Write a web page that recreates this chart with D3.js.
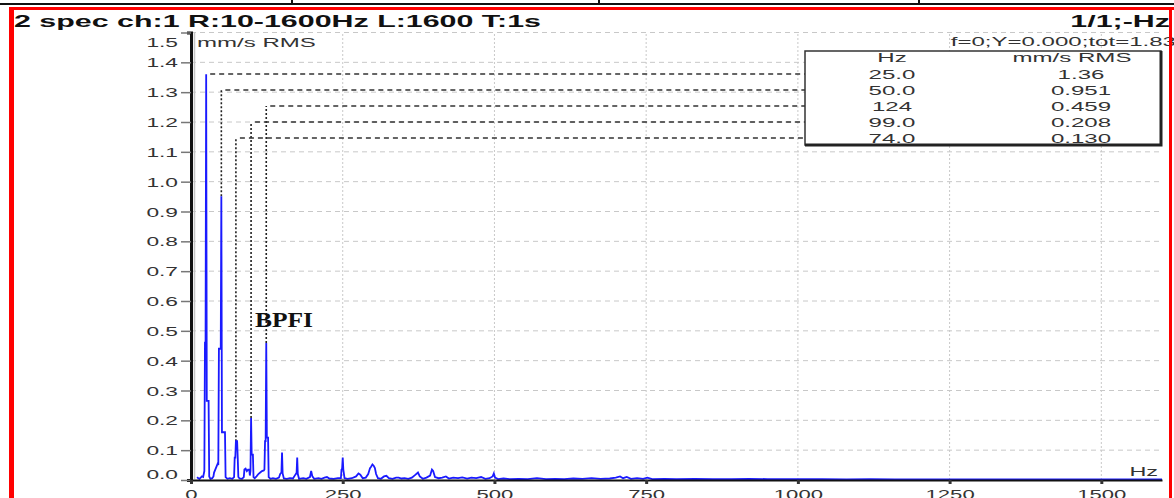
<!DOCTYPE html>
<meta charset="utf-8">
<head>
    <script src="https://d3js.org/d3.v7.min.js"></script>
    <style>
        body { margin: 0; background: #fff; }
        text { font-family: Arial, "Liberation Sans", sans-serif; }
    </style>
</head>
<body>
<div id="my_dataviz"></div>

<script>

    // spectrum: [Hz, mm/s RMS]
    const spectrum = [
        [10,0.010],[12,0.006],[14,0.004],[16,0.008],[18,0.012],[20,0.010],[21,0.020],[22,0.030],
        [23,0.460],[24,0.460],[25,1.360],[26,0.265],[29,0.265],[30,0.012],[32,0.004],[35,0.006],
        [37,0.012],[38,0.025],[40,0.035],[42,0.045],[44,0.055],[45,0.050],[46,0.440],[49,0.440],
        [50,0.951],[51,0.160],[56,0.160],[57,0.010],[60,0.004],[64,0.006],[68,0.004],[71,0.010],
        [72,0.075],[73,0.075],[74,0.130],[76,0.130],[77,0.075],[78,0.010],[80,0.005],[84,0.004],
        [87,0.010],[88,0.035],[90,0.038],[92,0.030],[94,0.035],[96,0.035],[97,0.015],[98,0.030],
        [99,0.208],[100,0.085],[102,0.085],[103,0.010],[105,0.006],[108,0.012],[111,0.020],[114,0.025],
        [117,0.030],[120,0.032],[121,0.035],[122,0.130],[123,0.130],[124,0.459],[125,0.142],[127,0.142],
        [128,0.010],[131,0.004],[135,0.006],[140,0.004],[145,0.008],[147,0.020],[149,0.025],[150,0.092],
        [151,0.022],[153,0.005],[158,0.004],[163,0.006],[168,0.005],[172,0.018],[174,0.024],[175,0.075],
        [176,0.020],[178,0.004],[185,0.006],[190,0.004],[196,0.010],[198,0.030],[200,0.012],[203,0.004],
        [210,0.006],[215,0.004],[220,0.008],[224,0.010],[228,0.005],[235,0.004],[242,0.006],[247,0.006],
        [248,0.035],[249,0.038],[250,0.075],[251,0.035],[253,0.006],[258,0.004],[265,0.006],[272,0.012],
        [276,0.022],[279,0.018],[283,0.006],[288,0.008],[292,0.020],[295,0.040],[297,0.045],[299,0.052],
        [301,0.048],[303,0.040],[305,0.020],[308,0.006],[313,0.004],[318,0.012],[322,0.014],[326,0.006],
        [332,0.004],[338,0.008],[342,0.008],[347,0.005],[352,0.006],[358,0.004],[364,0.008],[370,0.018],
        [374,0.025],[377,0.012],[382,0.004],[388,0.008],[394,0.015],[397,0.035],[399,0.030],[402,0.010],
        [408,0.006],[414,0.008],[420,0.012],[425,0.005],[432,0.008],[440,0.006],[447,0.009],[455,0.005],
        [462,0.008],[470,0.006],[478,0.010],[485,0.004],[492,0.006],[497,0.012],[499,0.022],[501,0.008],
        [506,0.003],[515,0.005],[525,0.003],[540,0.004],[555,0.003],[570,0.006],[585,0.003],[600,0.004],
        [615,0.003],[630,0.005],[645,0.004],[660,0.006],[675,0.004],[690,0.005],[700,0.008],[707,0.012],
        [712,0.006],[718,0.010],[725,0.004],[735,0.006],[745,0.004],[752,0.008],[760,0.003],[780,0.004],
        [800,0.003],[830,0.004],[860,0.003],[890,0.003],[920,0.004],[950,0.003],[980,0.003],[1010,0.003],
        [1040,0.003],[1080,0.002],[1120,0.003],[1160,0.002],[1200,0.002],[1250,0.002],[1300,0.002],
        [1350,0.002],[1400,0.002],[1450,0.002],[1500,0.002],[1550,0.002],[1600,0.002]
    ];

    // peak table (sorted by amplitude, as in the instrument)
    const peakHz = [25.0, 50.0, 124, 99.0, 74.0];
    const peakHzText = ["25.0", "50.0", "124", "99.0", "74.0"];
    const peakAmp = [1.36, 0.951, 0.459, 0.208, 0.130];
    const peakAmpText = ["1.36", "0.951", "0.459", "0.208", "0.130"];

    const xTicks = [0, 250, 500, 750, 1000, 1250, 1500];
    const yTicks = [0.0, 0.1, 0.2, 0.3, 0.4, 0.5, 0.6, 0.7, 0.8, 0.9, 1.0, 1.1, 1.2, 1.3, 1.4, 1.5];

    const title = "2 spec ch:1 R:10-1600Hz L:1600 T:1s";
    const titleRight = "1/1;-Hz";
    const infoText = "f=0;Y=0.000;tot=1.83";

    // the screenshot is stretched sideways, so all text is widened
    const SX = 1.8;

    const svg = d3.select("#my_dataviz").append("svg")
        .attr("width", 1174)
        .attr("height", 498)

    const x = d3.scaleLinear()
        .domain([0, 1600])
        .range([191, 1162])

    const y = d3.scaleLinear()
        .domain([0, 1.5])
        .range([480, 32.5])

    function wideText(g, str, tx, ty, size, anchor, sx, weight) {
        return g.append("text")
            .attr("transform", `translate(${tx},${ty}) scale(${sx},1)`)
            .attr("text-anchor", anchor)
            .attr("font-size", size)
            .attr("font-weight", weight || "normal")
            .attr("fill", "#333")
            .text(str)
    }

    // page line above the frame
    svg.append("line")
        .attr("x1", 0).attr("x2", 1174).attr("y1", 4).attr("y2", 4)
        .attr("stroke", "#111").attr("stroke-width", 2)
    ;[292, 599, 919].forEach(px => {
        svg.append("line")
            .attr("x1", px).attr("x2", px).attr("y1", 0).attr("y2", 4)
            .attr("stroke", "#111").attr("stroke-width", 2)
    })

    // grid
    svg.append("g")
        .selectAll("line")
        .data(yTicks.filter(d => d > 0))
        .enter()
        .append("line")
        .attr("x1", x(0)).attr("x2", x(1600))
        .attr("y1", d => y(d)).attr("y2", d => y(d))
        .attr("stroke", "#c8c8c8")
        .attr("stroke-dasharray", "5,4")

    svg.append("g")
        .selectAll("line")
        .data(xTicks.filter(d => d > 0))
        .enter()
        .append("line")
        .attr("x1", d => x(d)).attr("x2", d => x(d))
        .attr("y1", y(0)).attr("y2", y(1.5))
        .attr("stroke", "#c8c8c8")
        .attr("stroke-dasharray", "2,2")

    // leader lines from peaks to the table rows
    const rowY = i => 74 + 16 * i
    const tableLeft = 805

    peakHz.forEach((f, i) => {
        const top = rowY(i)
        if (y(peakAmp[i]) - top > 2) {
            svg.append("line")
                .attr("x1", x(f)).attr("x2", x(f))
                .attr("y1", y(peakAmp[i])).attr("y2", top)
                .attr("stroke", "#222")
                .attr("stroke-width", 1.6)
                .attr("stroke-dasharray", "2,2")
        }
        svg.append("line")
            .attr("x1", x(f) + 4).attr("x2", tableLeft)
            .attr("y1", top).attr("y2", top)
            .attr("stroke", "#333")
            .attr("stroke-width", 1.4)
            .attr("stroke-dasharray", "5,4")
    })

    // spectrum
    svg.append("path")
        .datum(spectrum)
        .attr("fill", "none")
        .attr("stroke", "#1a1aff")
        .attr("stroke-width", 1.8)
        .attr("d", d3.line()
            .x(d => x(d[0]))
            .y(d => y(d[1]))
        )

    // axes
    svg.append("line")
        .attr("x1", 194.5).attr("x2", 194.5).attr("y1", 33).attr("y2", 479)
        .attr("stroke", "#c4c4c4").attr("stroke-width", 1.5)

    const leftAxis = d3.axisLeft(y)
        .tickValues(yTicks)
        .tickFormat(d3.format(".1f"))
        .tickSize(10)
        .tickSizeOuter(4)

    const yAxisG = svg.append("g")
        .attr("transform", `translate(${x(0)},0)`)
        .call(leftAxis)
    yAxisG.select(".domain").attr("stroke", "#111").attr("stroke-width", 3)
    yAxisG.selectAll(".tick line").attr("stroke", "#777").attr("stroke-width", 1.5)
    yAxisG.selectAll(".tick text")
        .attr("font-size", 13)
        .attr("fill", "#333")
        .attr("x", null)
        .attr("dy", null)
        .attr("transform", d => {
            let shift = 4.5
            if (d === 1.5) shift = 14
            if (d === 0) shift = -2
            return `translate(-13,${shift}) scale(1.75,1)`
        })

    const bottomAxis = d3.axisBottom(x)
        .tickValues(xTicks)
        .tickFormat(d3.format("d"))
        .tickSize(4)
        .tickSizeOuter(0)

    const xAxisG = svg.append("g")
        .attr("transform", `translate(0,${y(0)})`)
        .call(bottomAxis)
    xAxisG.select(".domain").attr("stroke", "#111").attr("stroke-width", 2)
    xAxisG.selectAll(".tick line").attr("stroke", "#333").attr("stroke-width", 3)
    xAxisG.selectAll(".tick text")
        .attr("font-size", 13)
        .attr("fill", "#333")
        .attr("y", null)
        .attr("dy", null)
        .attr("transform", "translate(0,19) scale(1.7,1)")

    wideText(svg, "Hz", 1158, 476, 13, "end", SX)
    wideText(svg, "mm/s RMS", 197, 47, 13, "start", 1.85)

    // peak table
    svg.append("rect")
        .attr("x", tableLeft).attr("y", 51)
        .attr("width", 356).attr("height", 94)
        .attr("fill", "#fff")
        .attr("stroke", "#333")
        .attr("stroke-width", 1.5)
    svg.append("path")
        .attr("d", `M${tableLeft + 356},51 V145 H${tableLeft}`)
        .attr("fill", "none")
        .attr("stroke", "#222")
        .attr("stroke-width", 3)

    wideText(svg, "Hz", 892, 62, 13, "middle", 1.85)
    wideText(svg, "mm/s RMS", 1072, 62, 13, "middle", 1.85)
    peakHzText.forEach((t, i) => {
        wideText(svg, t, 892, rowY(i) + 4.5, 13, "middle", 1.85)
        wideText(svg, peakAmpText[i], 1081, rowY(i) + 4.5, 13, "middle", 1.85)
    })

    // BPFI note (serif, set as style so the css font rule does not win)
    svg.append("text")
        .attr("x", 255)
        .attr("y", 327)
        .style("font-family", "'Liberation Serif', 'Times New Roman', serif")
        .attr("font-weight", "bold")
        .attr("font-size", 22)
        .attr("textLength", 58)
        .attr("lengthAdjust", "spacingAndGlyphs")
        .attr("fill", "#111")
        .text("BPFI")

    // header texts
    wideText(svg, title, 14, 27, 16, "start", 1.9, "bold").attr("fill", "#111")
    wideText(svg, titleRight, 1170, 27, 16, "end", 1.9, "bold").attr("fill", "#111")
    wideText(svg, infoText, 1176, 46, 13, "end", 1.85)

    // red frame
    svg.append("line")
        .attr("x1", 9).attr("x2", 1174).attr("y1", 8.5).attr("y2", 8.5)
        .attr("stroke", "#ff0000").attr("stroke-width", 3)
    svg.append("line")
        .attr("x1", 11.5).attr("x2", 11.5).attr("y1", 7).attr("y2", 498)
        .attr("stroke", "#ff0000").attr("stroke-width", 5)
    svg.append("line")
        .attr("x1", 1170.5).attr("x2", 1170.5).attr("y1", 7).attr("y2", 498)
        .attr("stroke", "#ff0000").attr("stroke-width", 3)

</script>
</body>
